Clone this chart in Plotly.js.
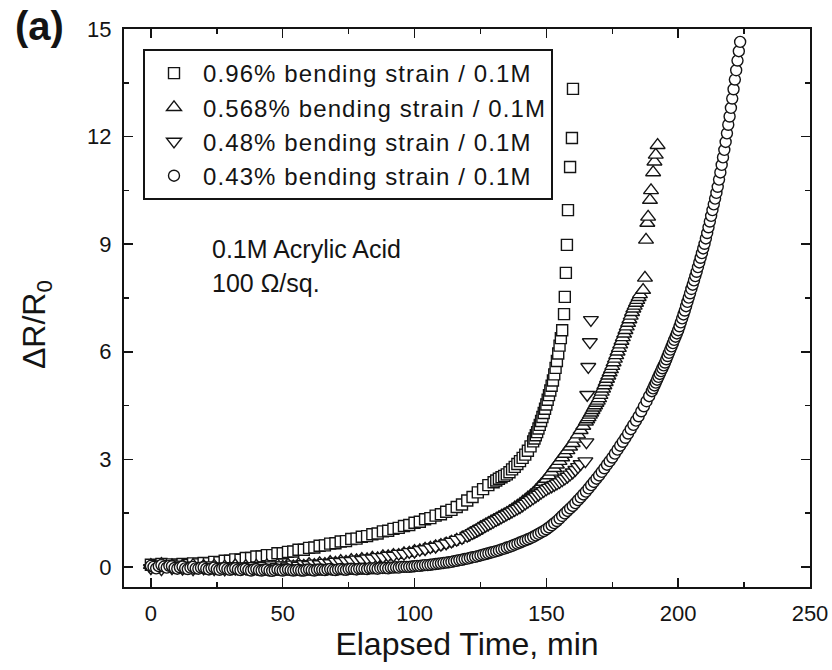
<!DOCTYPE html>
<html>
<head>
<meta charset="utf-8">
<script src="https://cdn.plot.ly/plotly-3.0.1.min.js"></script>
<style>
  html, body { margin: 0; padding: 0; background: #fff; }
  #chart { width: 832px; height: 670px; }
  .legendtext { letter-spacing: 1.1px; }
</style>
</head>
<body>
<div id="chart"></div>
<script>
// Series labels (legend order)
const seriesNames = [
  '0.96% bending strain / 0.1M',
  '0.568% bending strain / 0.1M',
  '0.48% bending strain / 0.1M',
  '0.43% bending strain / 0.1M'
];

// 0.96% bending strain: elapsed time (min) and ΔR/R0
const squareT = [0,2,4,6,8,10,12,14,16,18,20,22,24,26,28,30,32,34,36,38,40,42,44,46,48,50,52,54,56,58,60,62,64,66,68,70,72,74,76,78,80,82,84,86,88,90,92,94,96,98,100,102,104,106,108,110,112,114,116,118,120,122,124,126,128,130,
  131,132,133,134,135,136,137,138,139,140,141,142,143,144,145,
  145.5,146,146.5,147,147.5,148,148.5,149,149.5,150,150.5,151,151.5,152,152.5,153,153.5,154,154.5,155,155.5,156,
  156.7,157.0,157.4,157.8,158.2,159.0,159.7,160.1];
const squareV = [0.06,0.02,0.08,0.03,0.07,0.04,0.08,0.05,0.10,0.07,0.11,0.10,0.14,0.13,0.17,0.17,0.21,0.20,0.25,0.25,0.29,0.29,0.33,0.33,0.38,0.38,0.42,0.43,0.48,0.48,0.53,0.54,0.59,0.60,0.65,0.66,0.71,0.72,0.78,0.79,0.84,0.86,0.91,0.93,0.99,1.01,1.06,1.09,1.14,1.17,1.23,1.26,1.33,1.36,1.43,1.47,1.54,1.59,1.67,1.74,1.85,1.95,2.08,2.17,2.28,2.36,
  2.41,2.46,2.50,2.54,2.58,2.64,2.72,2.79,2.87,2.95,3.04,3.13,3.24,3.36,3.50,
  3.58,3.67,3.76,3.86,3.96,4.07,4.18,4.29,4.41,4.53,4.66,4.79,4.92,5.05,5.20,5.37,5.55,5.74,5.95,6.17,6.38,6.60,
  7.05,7.53,8.20,8.98,9.95,11.15,11.96,13.33];

// 0.568% bending strain
const triUpT = [0,2,4,6,8,10,12,14,16,18,20,22,24,26,28,30,32,34,36,38,40,42,44,46,48,50,52,54,56,58,60,62,64,66,68,70,72,74,76,78,80,82,84,86,88,90,92,94,96,98,100,102,104,106,108,110,112,114,116,118,120,
  121,122,123,124,125,126,127,128,129,130,131,132,133,134,135,136,137,138,139,140,141,142,143,144,145,146,147,148,149,150,151,152,153,154,155,156,157,158,159,160,161,162,163,164,165,
  165.5,166,166.5,167,167.5,168,168.5,169,169.5,170,170.5,171,171.5,172,172.5,173,173.5,174,174.5,175,175.5,176,176.5,177,177.5,178,178.5,179,179.5,180,180.5,181,181.5,182,182.5,183,183.5,184,184.5,185,185.5,
  186.7,187.4,187.8,188.3,188.6,189.3,189.7,190.5,191.0,191.5,192.2];
const triUpV = [0.05,-0.05,0.08,-0.02,0.04,-0.06,0.03,-0.04,0.05,-0.07,0.02,-0.05,0.03,-0.08,0.01,-0.05,0.04,-0.06,0.02,-0.04,0.03,-0.03,0.04,-0.02,0.05,0.00,0.06,0.01,0.07,0.03,0.08,0.05,0.10,0.08,0.13,0.11,0.16,0.14,0.19,0.18,0.22,0.21,0.25,0.24,0.29,0.29,0.33,0.33,0.38,0.39,0.44,0.46,0.50,0.53,0.57,0.61,0.65,0.70,0.75,0.81,0.88,
  0.92,0.96,1.00,1.05,1.10,1.14,1.18,1.22,1.26,1.30,1.34,1.38,1.42,1.46,1.50,1.55,1.60,1.65,1.70,1.75,1.81,1.87,1.93,1.99,2.05,2.13,2.21,2.29,2.37,2.45,2.55,2.65,2.75,2.85,2.95,3.05,3.15,3.25,3.35,3.45,3.57,3.69,3.81,3.93,4.05,
  4.11,4.17,4.24,4.30,4.37,4.44,4.50,4.57,4.63,4.70,4.79,4.88,4.97,5.06,5.15,5.24,5.33,5.42,5.51,5.60,5.70,5.80,5.90,6.00,6.10,6.20,6.30,6.40,6.50,6.60,6.70,6.80,6.90,7.00,7.10,7.20,7.28,7.36,7.44,7.52,7.60,
  7.72,8.06,9.12,9.59,9.76,10.23,10.50,11.00,11.30,11.49,11.76];

// 0.48% bending strain
const triDownT = [0,2,4,6,8,10,12,14,16,18,20,22,24,26,28,30,32,34,36,38,40,42,44,46,48,50,52,54,56,58,60,62,64,66,68,70,72,74,76,78,80,82,84,86,88,90,92,94,96,98,100,102,104,106,108,110,112,114,116,118,120,
  121,122,123,124,125,126,127,128,129,130,131,132,133,134,135,136,137,138,139,140,141,142,143,144,145,146,147,148,149,150,151,152,153,154,155,156,157,158,159,160,161,162,163,
  164.8,165.2,165.5,165.9,166.5,166.9];
const triDownV = [-0.03,0.06,-0.06,0.05,-0.03,0.07,-0.05,0.04,-0.06,0.03,-0.04,0.05,-0.06,0.02,-0.07,0.03,-0.05,0.02,-0.04,0.03,-0.03,0.04,-0.02,0.05,0.00,0.05,0.02,0.07,0.04,0.08,0.06,0.10,0.08,0.12,0.11,0.15,0.14,0.17,0.17,0.21,0.20,0.24,0.24,0.28,0.28,0.32,0.32,0.37,0.37,0.42,0.43,0.48,0.50,0.55,0.57,0.62,0.66,0.71,0.76,0.81,0.87,
  0.91,0.95,0.99,1.03,1.07,1.11,1.15,1.19,1.23,1.27,1.31,1.35,1.39,1.43,1.47,1.51,1.55,1.59,1.63,1.67,1.72,1.77,1.82,1.87,1.92,1.97,2.02,2.07,2.12,2.17,2.21,2.25,2.29,2.33,2.37,2.42,2.47,2.52,2.58,2.64,2.71,2.79,2.87,
  2.95,3.48,4.80,5.58,6.27,6.89];

// 0.43% bending strain
const circleT = [0,1,2,3,4,5,6,7,8,9,10,11,12,13,14,15,16,17,18,19,20,21,22,23,24,25,26,27,28,29,30,31,32,33,34,35,36,37,38,39,40,41,42,43,44,45,46,47,48,49,50,51,52,53,54,55,56,57,58,59,60,61,62,63,64,65,66,67,68,69,70,71,72,73,74,75,76,77,78,79,80,81,82,83,84,85,86,87,88,89,90,91,92,93,94,95,96,97,98,99,100,
  101,102,103,104,105,106,107,108,109,110,111,112,113,114,115,116,117,118,119,120,121,122,123,124,125,126,127,128,129,130,131,132,133,134,135,136,137,138,139,140,141,142,143,144,145,146,147,148,149,150,151,152,153,154,155,156,157,158,159,160,161,162,163,164,165,166,167,168,169,170,171,172,173,174,175,176,177,178,179,180,181,182,183,184,185,186,187,188,189,190,
  190.5,191,191.5,192,192.5,193,193.5,194,194.5,195,195.5,196,196.5,197,197.5,198,198.5,199,199.5,200,200.5,201,201.5,202,202.5,203,203.5,204,204.5,205,205.5,206,206.5,207,207.5,208,208.5,209,209.5,210,210.5,211,211.5,212,212.5,213,213.5,214,214.5,215,215.5,216,216.5,217,217.5,218,218.5,219,219.5,220,220.5,221,221.5,222,222.5,223,223.5];
const circleV = [0.03,0.00,-0.04,0.02,0.05,0.01,-0.02,0.03,0.02,-0.03,-0.05,-0.01,0.01,-0.04,-0.06,-0.02,0.00,-0.04,-0.05,-0.02,-0.01,-0.05,-0.07,-0.04,-0.02,-0.06,-0.08,-0.05,-0.03,-0.06,-0.08,-0.06,-0.04,-0.07,-0.09,-0.06,-0.05,-0.08,-0.10,-0.07,-0.06,-0.09,-0.10,-0.08,-0.07,-0.10,-0.11,-0.09,-0.07,-0.09,-0.10,-0.08,-0.07,-0.09,-0.10,-0.09,-0.08,-0.10,-0.10,-0.08,-0.07,-0.09,-0.10,-0.08,-0.07,-0.08,-0.09,-0.07,-0.06,-0.08,-0.09,-0.07,-0.06,-0.07,-0.08,-0.06,-0.05,-0.06,-0.07,-0.05,-0.05,-0.05,-0.06,-0.04,-0.04,-0.04,-0.05,-0.03,-0.03,-0.03,-0.04,-0.02,-0.02,-0.01,-0.02,0.00,0.00,0.00,0.00,0.01,0.02,
  0.03,0.03,0.04,0.05,0.05,0.06,0.07,0.08,0.09,0.10,0.11,0.12,0.13,0.14,0.16,0.17,0.19,0.20,0.22,0.23,0.25,0.27,0.28,0.30,0.32,0.34,0.36,0.38,0.40,0.42,0.44,0.46,0.49,0.51,0.54,0.56,0.59,0.62,0.65,0.68,0.71,0.74,0.77,0.80,0.84,0.88,0.92,0.96,1.00,1.05,1.10,1.16,1.22,1.28,1.35,1.42,1.49,1.56,1.63,1.70,1.78,1.86,1.94,2.02,2.10,2.19,2.28,2.37,2.46,2.55,2.65,2.75,2.85,2.95,3.05,3.16,3.27,3.38,3.49,3.60,3.72,3.84,3.96,4.08,4.20,4.34,4.48,4.62,4.76,4.90,
  4.98,5.06,5.14,5.22,5.30,5.38,5.46,5.54,5.62,5.70,5.79,5.88,5.97,6.06,6.15,6.24,6.33,6.42,6.51,6.60,6.71,6.82,6.93,7.04,7.15,7.27,7.39,7.51,7.63,7.75,7.87,7.99,8.11,8.23,8.36,8.49,8.62,8.75,8.88,9.01,9.16,9.31,9.47,9.63,9.79,9.95,10.11,10.27,10.43,10.60,10.80,11.00,11.21,11.42,11.63,11.85,12.09,12.33,12.56,12.80,13.06,13.32,13.59,13.85,14.12,14.38,14.64];

// Axis ticks
const xTickVals = [0, 50, 100, 150, 200, 250];
const yTickVals = [0, 3, 6, 9, 12, 15];

const FONT = '"Liberation Sans", Arial, Helvetica, sans-serif';
const INK = '#141414';

function openMarkers(name, x, y, symbol, size) {
  return {
    type: 'scatter', mode: 'markers', name: name, x: x, y: y,
    marker: { symbol: symbol, size: size, color: '#ffffff', line: { color: INK, width: 1.4 } },
    hoverinfo: 'skip'
  };
}

const traces = [
  openMarkers(seriesNames[0], squareT, squareV, 'square', 11),
  openMarkers(seriesNames[1], triUpT, triUpV, 'triangle-up', 13),
  openMarkers(seriesNames[2], triDownT, triDownV, 'triangle-down', 13),
  openMarkers(seriesNames[3], circleT, circleV, 'circle', 11)
];

function axisStyle(extra) {
  return Object.assign({
    ticks: 'inside', ticklen: 9, tickwidth: 1.5, tickcolor: INK,
    showline: true, linewidth: 2, linecolor: INK, mirror: 'ticks',
    showgrid: false, zeroline: false,
    tickfont: { size: 22, family: FONT, color: INK },
    tickmode: 'array'
  }, extra);
}

const layout = {
  width: 832, height: 670,
  margin: { l: 124, r: 22, t: 29, b: 83 },
  paper_bgcolor: '#ffffff', plot_bgcolor: '#ffffff',
  font: { family: FONT, color: INK },
  showlegend: true,
  legend: {
    x: 0.0277, y: 0.9642, xanchor: 'left', yanchor: 'top',
    bordercolor: INK, borderwidth: 2, bgcolor: '#ffffff',
    font: { size: 24, family: FONT, color: INK },
    itemwidth: 48, tracegroupgap: 0
  },
  xaxis: axisStyle({
    range: [-10.2, 250], tickvals: xTickVals, ticktext: xTickVals.map(String),
    minor: { tickvals: [25, 75, 125, 175, 225], ticks: 'inside', ticklen: 5, tickwidth: 1.5, tickcolor: INK, showgrid: false },
    ticklabelstandoff: 6,
    title: { text: 'Elapsed Time, min', font: { size: 32, family: FONT, color: INK }, standoff: 3 }
  }),
  yaxis: axisStyle({
    range: [-0.56, 15], tickvals: yTickVals, ticktext: yTickVals.map(String),
    minor: { tickvals: [1.5, 4.5, 7.5, 10.5, 13.5], ticks: 'inside', ticklen: 5, tickwidth: 1.5, tickcolor: INK, showgrid: false },
    ticklabelstandoff: 6
  }),
  annotations: [
    { xref: 'paper', yref: 'paper', x: -0.1282, y: 0.4695, xanchor: 'center', yanchor: 'middle', textangle: -90,
      text: 'ΔR/R<sub>0</sub>', showarrow: false, font: { size: 32, family: FONT, color: INK } },
    { xref: 'paper', yref: 'paper', x: 0.1254, y: 0.6057, xanchor: 'left', yanchor: 'middle',
      text: '0.1M Acrylic Acid', showarrow: false, font: { size: 25, family: FONT, color: INK } },
    { xref: 'paper', yref: 'paper', x: 0.1254, y: 0.5448, xanchor: 'left', yanchor: 'middle',
      text: '100 Ω/sq.', showarrow: false, font: { size: 25, family: FONT, color: INK } },
    { xref: 'paper', yref: 'paper', x: -0.1618, y: 1.005, xanchor: 'left', yanchor: 'middle',
      text: '<b>(a)</b>', showarrow: false, font: { size: 40, family: FONT, color: INK } }
  ]
};

Plotly.newPlot('chart', traces, layout, { displayModeBar: false, staticPlot: true });
</script>
</body>
</html>
